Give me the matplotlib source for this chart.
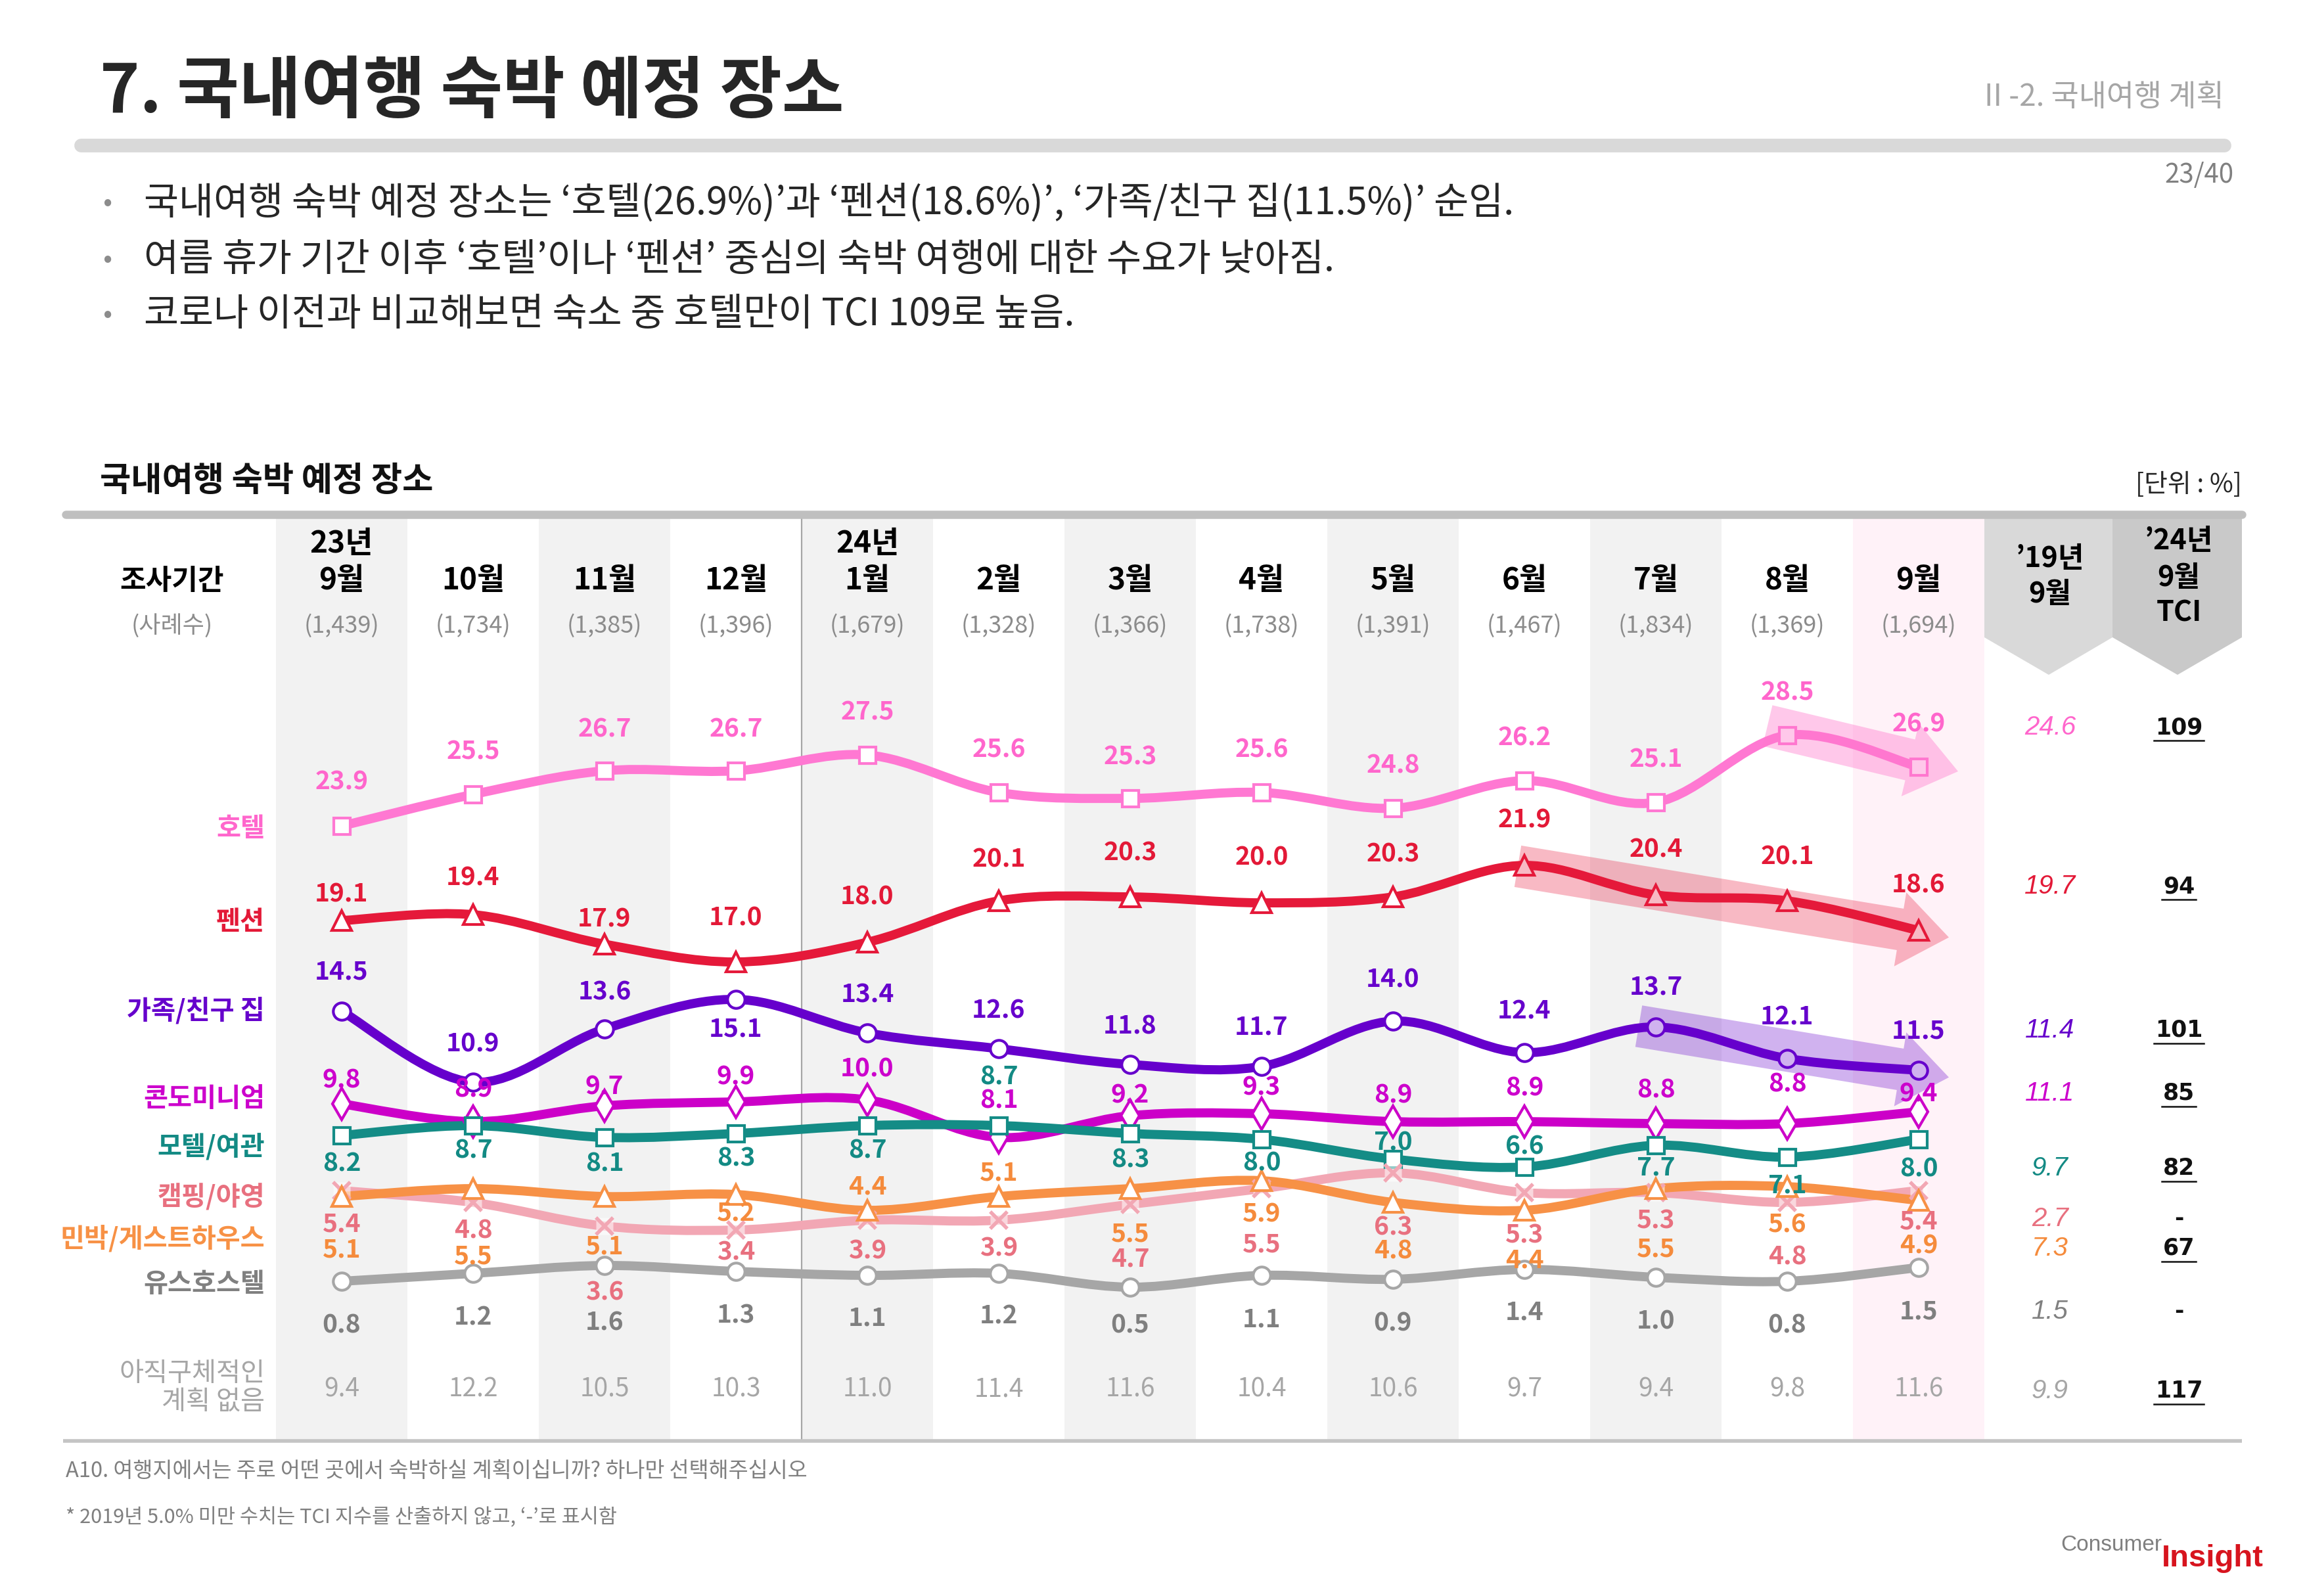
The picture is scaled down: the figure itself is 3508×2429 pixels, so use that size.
import numpy as np
import matplotlib
matplotlib.use("Agg")
import matplotlib.pyplot as plt
from matplotlib.path import Path
from matplotlib.patches import PathPatch, FancyArrowPatch, Polygon
from matplotlib.transforms import blended_transform_factory

plt.rcParams["font.family"] = ["Noto Sans CJK KR", "DejaVu Sans"]

# ---- data -------------------------------------------------------------
years = ["23년", "", "", "", "24년", "", "", "", "", "", "", "", ""]
months = ["9월", "10월", "11월", "12월", "1월", "2월", "3월", "4월",
          "5월", "6월", "7월", "8월", "9월"]
sample_n = ["(1,439)", "(1,734)", "(1,385)", "(1,396)", "(1,679)", "(1,328)",
            "(1,366)", "(1,738)", "(1,391)", "(1,467)", "(1,834)", "(1,369)",
            "(1,694)"]

hotel = [23.9, 25.5, 26.7, 26.7, 27.5, 25.6, 25.3, 25.6, 24.8, 26.2, 25.1, 28.5, 26.9]
pension = [19.1, 19.4, 17.9, 17.0, 18.0, 20.1, 20.3, 20.0, 20.3, 21.9, 20.4, 20.1, 18.6]
family = [14.5, 10.9, 13.6, 15.1, 13.4, 12.6, 11.8, 11.7, 14.0, 12.4, 13.7, 12.1, 11.5]
condo = [9.8, 8.9, 9.7, 9.9, 10.0, 8.1, 9.2, 9.3, 8.9, 8.9, 8.8, 8.8, 9.4]
motel = [8.2, 8.7, 8.1, 8.3, 8.7, 8.7, 8.3, 8.0, 7.0, 6.6, 7.7, 7.1, 8.0]
camping = [5.4, 4.8, 3.6, 3.4, 3.9, 3.9, 4.7, 5.5, 6.3, 5.3, 5.3, 4.8, 5.4]
minbak = [5.1, 5.5, 5.1, 5.2, 4.4, 5.1, 5.5, 5.9, 4.8, 4.4, 5.5, 5.6, 4.9]
hostel = [0.8, 1.2, 1.6, 1.3, 1.1, 1.2, 0.5, 1.1, 0.9, 1.4, 1.0, 0.8, 1.5]
no_plan = [9.4, 12.2, 10.5, 10.3, 11.0, 11.4, 11.6, 10.4, 10.6, 9.7, 9.4, 9.8, 11.6]

row_names = ["호텔", "펜션", "가족/친구 집", "콘도미니엄", "모텔/여관",
             "캠핑/야영", "민박/게스트하우스", "유스호스텔", "아직구체적인\n계획 없음"]
y2019 = ["24.6", "19.7", "11.4", "11.1", "9.7", "2.7", "7.3", "1.5", "9.9"]
tci = ["109", "94", "101", "85", "82", "-", "67", "-", "117"]

bullets = [
    "국내여행 숙박 예정 장소는 ‘호텔(26.9%)’과 ‘펜션(18.6%)’, ‘가족/친구 집(11.5%)’ 순임.",
    "여름 휴가 기간 이후 ‘호텔’이나 ‘펜션’ 중심의 숙박 여행에 대한 수요가 낮아짐.",
    "코로나 이전과 비교해보면 숙소 중 호텔만이 TCI 109로 높음.",
]

# ---- layout / style ---------------------------------------------------
S = 3508 / 1568  # label offsets were measured on the reduced preview

# label offset from marker (preview px, + = below)
hotel_dy = [-30, -29, -28, -28, -29, -29, -28, -29, -29, -29, -29, -29, -29]
pension_dy = [-18, -25, -17, -30, -31, -28, -30, -31, -29, -31, -31, -30, -31]
family_dy = [-27, -26, -25, 20, -26, -26, -26, -27, -28, -28, -27, -28, -27]
condo_dy = [-16, -22, -13, -17, -21, -25, -14, -18, -18, -23, -23, -27, -12]
motel_dy = [19, 17, 18, 17, 17, -33, 18, 16, -11, -14, 15, 19, 20]
camping_dy = [23, 19, 45, 15, 21, 19, 37, 38, 37, 29, 19, 37, 21]
minbak_dy = [36, 46, 34, 13, -16, -16, 31, 23, 33, 34, 41, 26, 31]
hostel_dy = [30, 30, 39, 30, 29, 29, 26, 30, 30, 29, 30, 30, 30]

series = [
    (hotel, "#FF78D2", "#FF66CC", "s", 18, hotel_dy),
    (pension, "#E5193A", "#E31937", "^", 21, pension_dy),
    (family, "#6600CC", "#6600CC", "o", 19, family_dy),
    (condo, "#CC00C8", "#CC00CC", "d", 24, condo_dy),
    (motel, "#148C86", "#138A84", "s", 18, motel_dy),
    (camping, "#F2A7B4", "#E8707F", "x", 19, camping_dy),
    (minbak, "#F79146", "#F58B3C", "^", 21, minbak_dy),
    (hostel, "#A6A6A6", "#7F7F7F", "o", 19, hostel_dy),
]
name_colors = ["#FF66CC", "#E31937", "#6600CC", "#CC00CC", "#138A84",
               "#E8707F", "#F79145", "#808080", "#A6A6A6"]
name_y = [1262, 1403, 1539, 1673, 1747, 1823, 1886, 1955, 2112]
val_colors = ["#FF66CC", "#E31937", "#6600CC", "#CC00CC", "#138A84",
              "#E8707F", "#F58B3C", "#808080", "#A6A6A6"]
row_y = [1107, 1349, 1568, 1664, 1778, 1855, 1900, 1996, 2117]

# trend arrows: (series, start month index, x shift, x end, value shift, colour, alpha)
arrows = [
    (hotel, 11, -0.15, 12.3, 0.25, "#FF77CC", 0.40),
    (pension, 9, -0.05, 12.23, -0.1, "#E8193C", 0.30),
    (family, 10, -0.13, 12.23, -0.1, "#6600CC", 0.30),
]


def smooth_path(xs, ys):
    n = len(xs)
    verts = [(xs[0], ys[0])]
    codes = [Path.MOVETO]
    for k in range(n - 1):
        a = max(k - 1, 0)
        b = min(k + 2, n - 1)
        c1 = (xs[k] + (xs[k + 1] - xs[a]) / 6, ys[k] + (ys[k + 1] - ys[a]) / 6)
        c2 = (xs[k + 1] - (xs[b] - xs[k]) / 6, ys[k + 1] - (ys[b] - ys[k]) / 6)
        verts += [c1, c2, (xs[k + 1], ys[k + 1])]
        codes += [Path.CURVE4] * 3
    return Path(verts, codes)


fig = plt.figure(figsize=(35.08, 24.29), dpi=100)
page = fig.add_axes([0, 0, 1, 1], zorder=2)
page.set_xlim(0, 3508)
page.set_ylim(2429, 0)
page.axis("off")
page.patch.set_visible(False)

ax = fig.add_axes([420 / 3508, 1 - 2193 / 2429, 2600 / 3508, (2193 - 787) / 2429], zorder=1)
ax.set_xlim(-0.5, 12.5)
ax.set_ylim(-7.3, 39.57)
ax.axis("off")
colrow = blended_transform_factory(ax.transData, page.transData)

# ---- page header ------------------------------------------------------
page.text(152, 141, "7. 국내여행 숙박 예정 장소", fontsize=74, fontweight="bold",
          color="#262626", va="center", ha="left")
page.text(3385, 148, "II -2. 국내여행 계획", fontsize=33, color="#A6A6A6",
          va="center", ha="right")
page.plot([123, 3385], [221, 221], color="#D9D9D9", lw=15, solid_capstyle="round")
page.text(3400, 266, "23/40", fontsize=29, color="#808080", va="center", ha="right")
for txt, y in zip(bullets, [309, 396, 479]):
    page.text(163, y, "•", fontsize=30, color="#8C8C8C", va="center", ha="center")
    page.text(219, y, txt, fontsize=41.5, color="#262626", va="center", ha="left")

page.text(152, 731, "국내여행 숙박 예정 장소", fontsize=37, fontweight="bold",
          color="#111111", va="center", ha="left")
page.text(3412, 738, "[단위 : %]", fontsize=28, color="#262626", va="center", ha="right")

# ---- table frame ------------------------------------------------------
for i in range(len(months)):
    if i == len(months) - 1:
        ax.axvspan(i - 0.5, i + 0.5, color="#FFF2F8", lw=0, zorder=0)
    elif i % 2 == 0:
        ax.axvspan(i - 0.5, i + 0.5, color="#F2F2F2", lw=0, zorder=0)
ax.axvline(3.5, color="#A6A6A6", lw=1.6, zorder=1)

page.plot([100, 3412], [783, 783], color="#BFBFBF", lw=9, solid_capstyle="round", zorder=3)
page.plot([96, 3412], [2193, 2193], color="#C4C4C4", lw=4, solid_capstyle="butt")

page.add_patch(Polygon([(3020, 787), (3215, 787), (3215, 970), (3118, 1027), (3020, 970)],
                       closed=True, fc="#D9D9D9", ec="none", zorder=1))
page.add_patch(Polygon([(3215, 787), (3412, 787), (3412, 970), (3314, 1027), (3215, 970)],
                       closed=True, fc="#C9C9C9", ec="none", zorder=1))
page.text(3120, 850, "’19년", fontsize=31, fontweight="bold", ha="center", va="center")
page.text(3120, 904, "9월", fontsize=31, fontweight="bold", ha="center", va="center")
page.text(3316, 823, "’24년", fontsize=31, fontweight="bold", ha="center", va="center")
page.text(3316, 879, "9월", fontsize=31, fontweight="bold", ha="center", va="center")
page.text(3316, 933, "TCI", fontsize=31, fontweight="bold", ha="center", va="center")

page.text(262, 884, "조사기간", fontsize=31, fontweight="bold", ha="center", va="center")
page.text(262, 953, "(사례수)", fontsize=26, color="#8C8C8C", ha="center", va="center")
for i, (yr, mo, n) in enumerate(zip(years, months, sample_n)):
    if yr:
        page.text(i, 828, yr, transform=colrow, fontsize=33, fontweight="bold",
                  ha="center", va="center")
    page.text(i, 884, mo, transform=colrow, fontsize=33, fontweight="bold",
              ha="center", va="center")
    page.text(i, 953, n, transform=colrow, fontsize=26, color="#8C8C8C",
              ha="center", va="center")

# ---- row names --------------------------------------------------------
for name, c, y in zip(row_names, name_colors, name_y):
    w = "normal" if "\n" in name else "bold"
    page.text(403, y, name, fontsize=29, fontweight=w, color=c, ha="right",
              va="center", linespacing=1.05)

# ---- lines ------------------------------------------------------------
for vals, line_c, lab_c, mk, ms, dys in series:
    xs = np.arange(len(vals), dtype=float)
    ys = np.asarray(vals, dtype=float)
    ax.add_patch(PathPatch(smooth_path(xs, ys), fill=False, ec=line_c, lw=10,
                           capstyle="round", joinstyle="round", zorder=2))
    if mk == "x":
        ax.plot(xs, ys, ls="none", marker="s", ms=ms, mfc="white", mec="none",
                alpha=0.55, zorder=3)
        ax.plot(xs, ys, ls="none", marker="x", ms=ms, mew=4, color=line_c, zorder=3)
    else:
        ax.plot(xs, ys, ls="none", marker=mk, ms=ms, mfc="white", mec=line_c,
                mew=3, zorder=3)
    for x, v, d in zip(xs, ys, dys):
        ax.annotate(f"{v:.1f}", (x, v), xytext=(0, -d * S), textcoords="offset pixels",
                    ha="center", va="center", fontsize=28, fontweight="bold",
                    color=lab_c, zorder=6)

for i, v in enumerate(no_plan):
    ax.text(i, 2114, f"{v:.1f}", transform=colrow, fontsize=28, color="#A6A6A6",
            ha="center", va="center", zorder=6)

# ---- trend arrows -----------------------------------------------------
for vals, i0, dx0, x1, dv, c, a in arrows:
    slope = (vals[-1] - vals[i0]) / (len(vals) - 1 - i0)
    x0 = i0 + dx0
    p0 = (x0, vals[i0] + slope * dx0 + dv)
    p1 = (x1, vals[i0] + slope * (x1 - i0) + dv)
    ax.add_patch(FancyArrowPatch(p0, p1, arrowstyle="simple,tail_width=46,head_width=82,head_length=54",
                                 mutation_scale=1, color=c, alpha=a, lw=0,
                                 shrinkA=0, shrinkB=0, zorder=5))

# ---- 2019 and TCI columns ---------------------------------------------
tci_texts = []
for v19, t, c, y in zip(y2019, tci, val_colors, row_y):
    page.text(3120, y, v19, fontsize=29, style="italic", family="Liberation Sans",
              color=c, ha="center", va="center")
    tt = page.text(3316, y, t, fontsize=25, fontweight="bold", family="DejaVu Sans",
                   color="#111111", ha="center", va="center")
    if t != "-":
        tci_texts.append(tt)

# ---- footnotes & logo -------------------------------------------------
page.text(100, 2239, "A10. 여행지에서는 주로 어떤 곳에서 숙박하실 계획이십니까? 하나만 선택해주십시오",
          fontsize=23.5, color="#7F7F7F", ha="left", va="center")
page.text(100, 2309, "* 2019년 5.0% 미만 수치는 TCI 지수를 산출하지 않고, ‘-’로 표시함",
          fontsize=22, color="#7F7F7F", ha="left", va="center")
page.text(3290, 2352, "Consumer", fontsize=24, color="#7F7F7F", ha="right", va="center",
          family="Liberation Sans")
page.text(3290, 2372, "Insight", fontsize=34, fontweight="bold", color="#D7141E",
          ha="left", va="center", family="Liberation Sans")

fig.canvas.draw()
inv = page.transData.inverted()
for tt in tci_texts:
    bb = tt.get_window_extent()
    (xa, ya), (xb, yb) = inv.transform([(bb.x0, bb.y0), (bb.x1, bb.y0)])
    page.plot([xa - 2, xb + 2], [ya + 3, ya + 3], color="#111111", lw=1.8)

fig.savefig("out.png", dpi=100)
